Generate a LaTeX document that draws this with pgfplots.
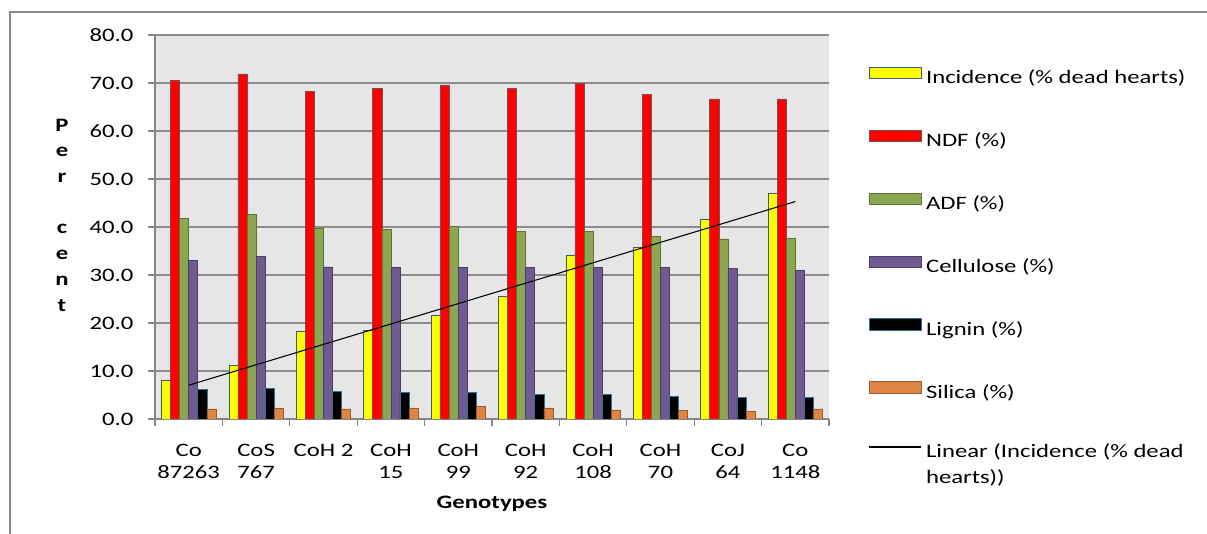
\documentclass[border=0pt]{standalone}
\usepackage{pgfplots}
\pgfplotsset{compat=1.18}
\usepackage{pgfplotstable}
\usepackage{fontspec}
\setmainfont{Carlito}[FakeStretch=1.3]

\definecolor{incY}{HTML}{FFFF00}
\definecolor{incD}{HTML}{3C5A78}
\definecolor{ndfR}{HTML}{FF0000}
\definecolor{ndfD}{HTML}{7A4F4F}
\definecolor{adfG}{HTML}{8BA753}
\definecolor{adfD}{HTML}{5F7530}
\definecolor{celP}{HTML}{6F5A91}
\definecolor{celD}{HTML}{4B3C66}
\definecolor{ligK}{HTML}{000000}
\definecolor{ligD}{HTML}{2F7390}
\definecolor{silO}{HTML}{DD8542}
\definecolor{silD}{HTML}{9A5A2A}
\definecolor{axisgray}{HTML}{868686}
\definecolor{gridgray}{HTML}{8C8C8C}
\definecolor{bggray}{HTML}{E6E6E6}
\definecolor{bordergray}{HTML}{8A8A8A}

\pgfplotsset{
  barleg/.style={legend image code/.code={\draw[##1] (0pt,0.3pt) rectangle (39pt,8.8pt);}},
  trendleg/.style={legend image code/.code={\draw[##1] (0pt,4.5pt) -- (39pt,4.5pt);}},
}

\pgfplotstableread{
x inc ndf adf cel lig sil
1 8.1 70.5 41.8 33.1 6.2 2.1
2 11.2 71.9 42.7 33.8 6.4 2.3
3 18.2 68.2 39.8 31.7 5.8 2.1
4 18.5 68.8 39.5 31.5 5.6 2.3
5 21.7 69.6 40.1 31.5 5.6 2.7
6 25.5 68.8 39.1 31.5 5.1 2.3
7 34.1 69.9 39.0 31.5 5.1 1.9
8 35.8 67.6 38.1 31.5 4.7 1.7
9 41.6 66.7 37.5 31.3 4.5 1.5
10 47.0 66.7 37.7 30.9 4.5 2.1
}\datatable

\begin{document}
\fontsize{14.25pt}{17pt}\selectfont
\begin{tikzpicture}
\useasboundingbox (0,0) rectangle (905.25pt,400.5pt);
\draw[bordergray, line width=1.5pt] (7.5pt,0) -- (7.5pt,391.5pt) -- (905.25pt,391.5pt);
\begin{axis}[
  at={(116.25pt,86.25pt)}, anchor=south west,
  scale only axis, width=505.5pt, height=288pt,
  xmin=0.5, xmax=10.5, ymin=0, ymax=80,
  ybar=0pt, bar width=6.8pt,
  xtick={1,...,10},
  xticklabels={{Co\\87263},{CoS\\767},{CoH 2},{CoH\\15},{CoH\\99},{CoH\\92},{CoH\\108},{CoH\\70},{CoJ\\64},{Co\\1148}},
  minor xtick={0.5,1.5,...,10.5},
  ytick={0,10,...,80},
  axis x line*=bottom, axis y line*=left,
  axis line style={axisgray, line width=1pt},
  tick align=outside, major tick length=5pt, minor tick length=5pt,
  tick style={axisgray, line width=0.8pt},
  major x tick style={draw=none},
  ymajorgrids, grid style={gridgray, line width=1pt},
  axis background/.style={fill=bggray},
  yticklabel style={anchor=east, inner sep=0pt, xshift=-11pt,
    /pgf/number format/.cd, fixed, fixed zerofill, precision=1, assume math mode=true},
  xticklabel style={align=center, anchor=north, inner sep=0pt, yshift=-13.75pt,
    font=\fontsize{14.25pt}{16.5pt}\selectfont},
  xlabel={\textbf{Genotypes}},
  xlabel style={at={(axis description cs:0.5,0)}, anchor=center, yshift=-63.5pt},
  ylabel={P\\e\\r\\\phantom{c}\\c\\e\\n\\t},
  ylabel style={rotate=-90, at={(axis description cs:0,0.5)}, anchor=center,
    xshift=-69.75pt, yshift=9pt, align=center,
    font=\bfseries\fontsize{14.25pt}{19.3pt}\selectfont},
  legend style={draw=none, fill=none, at={(1.058,0.918)}, anchor=north west,
    inner sep=0pt, row sep=31.65pt, column sep=3.5pt,
    nodes={inner sep=0pt, text height=10pt, text depth=3pt,
      font=\fontsize{14.25pt}{19pt}\selectfont}},
  legend cell align=left,
  barleg,
]
\addplot[fill=incY, draw=incD, line width=0.5pt] table[x=x, y=inc] {\datatable};
\addlegendentry{Incidence (\% dead hearts)}
\addplot[fill=ndfR, draw=ndfD, line width=0.5pt] table[x=x, y=ndf] {\datatable};
\addlegendentry{NDF (\%)}
\addplot[fill=adfG, draw=adfD, line width=0.5pt] table[x=x, y=adf] {\datatable};
\addlegendentry{ADF (\%)}
\addplot[fill=celP, draw=celD, line width=0.5pt] table[x=x, y=cel] {\datatable};
\addlegendentry{Cellulose (\%)}
\addplot[fill=ligK, draw=ligD, line width=0.5pt] table[x=x, y=lig] {\datatable};
\addlegendentry{Lignin (\%)}
\addplot[fill=silO, draw=silD, line width=0.5pt] table[x=x, y=sil] {\datatable};
\addlegendentry{Silica (\%)}
\addplot[sharp plot, black, line width=0.8pt, trendleg]
  coordinates {(1,7.04) (10,45.3)};
\addlegendentry{\begin{tabular}[t]{@{}l@{}}Linear (Incidence (\% dead\\hearts))\end{tabular}}
\end{axis}
\end{tikzpicture}
\end{document}
